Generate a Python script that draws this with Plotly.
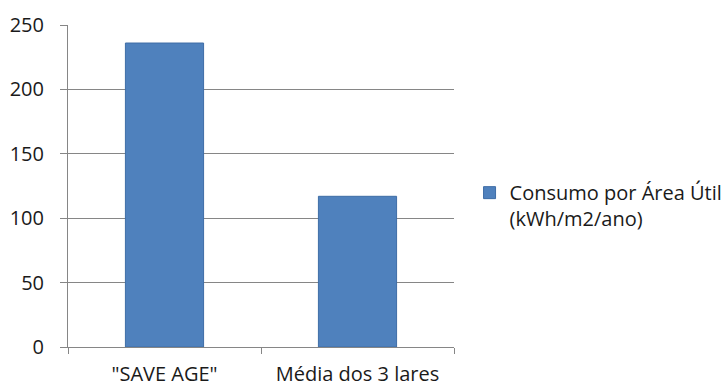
import plotly.graph_objects as go

# Energy use per useful floor area
categories = ['"SAVE AGE"', "Média dos 3 lares"]
consumo = [236, 117]
series_name = "Consumo por Área Útil<br>(kWh/m2/ano)"
y_ticks = [0, 50, 100, 150, 200, 250]

FONT = "Open Sans"
GRID = "#868686"

fig = go.Figure(
    go.Bar(
        x=categories,
        y=consumo,
        name=series_name,
        marker=dict(color="#4F81BD", line=dict(color="#3E6DA6", width=1)),
        showlegend=True,
    )
)

fig.update_layout(
    width=728,
    height=388,
    margin=dict(l=68, r=274, t=25, b=41, autoexpand=False),
    paper_bgcolor="white",
    plot_bgcolor="white",
    font=dict(family=FONT, size=20, color="#1a1a1a"),
    bargap=0.595,
    showlegend=True,
    legend=dict(
        xref="container",
        yref="container",
        x=0.645,
        xanchor="left",
        y=0.47,
        yanchor="middle",
        valign="top",
        font=dict(family=FONT, size=20, color="#1a1a1a"),
        bgcolor="rgba(0,0,0,0)",
    ),
)

fig.update_xaxes(
    showline=True,
    linecolor=GRID,
    linewidth=1,
    ticks="outside",
    tickson="boundaries",
    ticklen=6,
    tickcolor=GRID,
    showgrid=False,
    automargin=False,
    ticklabelstandoff=9,
)

fig.update_yaxes(
    range=[0, 250],
    tickvals=y_ticks,
    showline=True,
    linecolor=GRID,
    linewidth=1,
    ticks="outside",
    ticklen=7,
    tickcolor=GRID,
    showgrid=True,
    gridcolor=GRID,
    gridwidth=1,
    zeroline=False,
    automargin=False,
    ticklabelstandoff=12,
)

fig.write_html("out.html")
